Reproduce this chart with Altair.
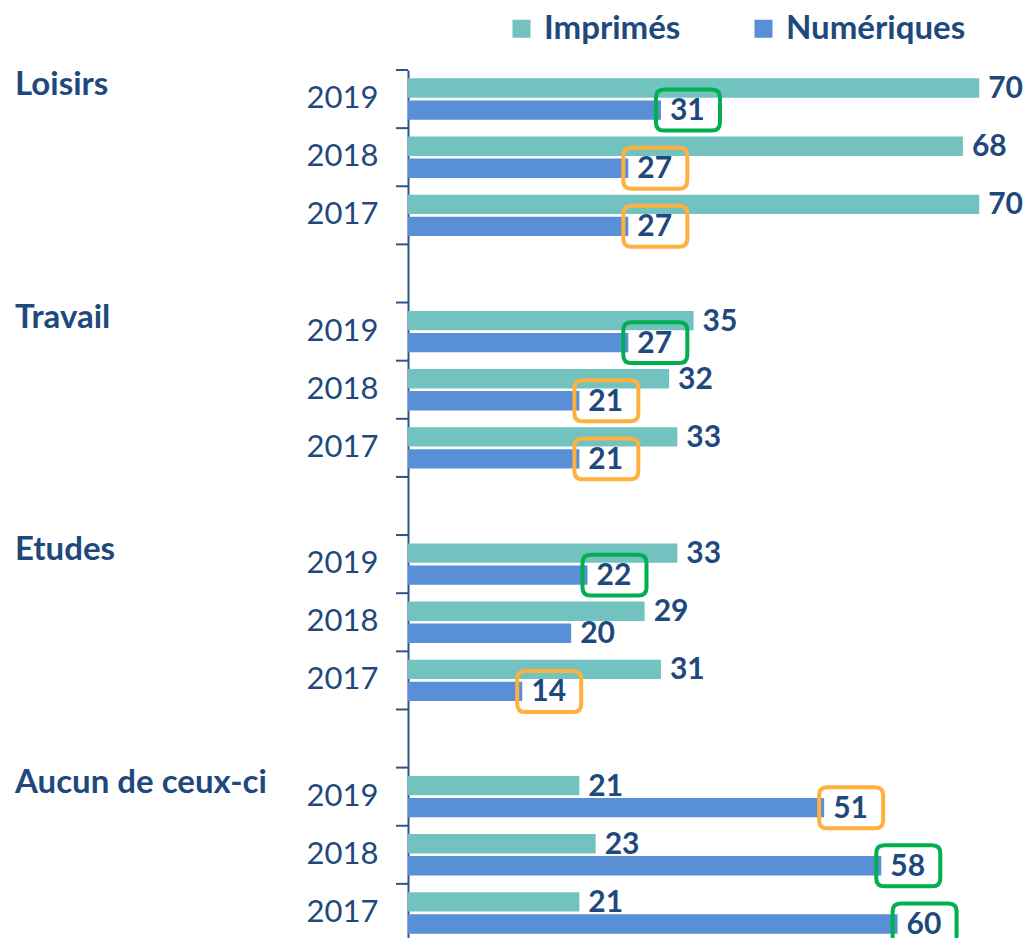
import altair as alt
import pandas as pd

groups = ["Loisirs", "Travail", "Etudes", "Aucun de ceux-ci"]
years = ["2019", "2018", "2017"]
series = ["Imprimés", "Numériques"]
imprimes = [70, 68, 70, 35, 32, 33, 33, 29, 31, 21, 23, 21]
numeriques = [31, 27, 27, 27, 21, 21, 22, 20, 14, 51, 58, 60]
highlight = ["vert", "orange", "orange",
             "vert", "orange", "orange",
             "vert", "", "orange",
             "orange", "vert", "vert"]

TEAL = "#72C3C0"
BLUE = "#588FD6"
NAVY = "#1F497D"
AXIS = "#2E538A"
GREEN = "#00B050"
ORANGE = "#FFB03F"

# row order with gap rows between groups
row_order = []
for gi, g in enumerate(groups):
    for y in years:
        row_order.append(f"{g}|{y}")
    if gi < len(groups) - 1:
        row_order.append(f"gap{gi}")

recs = []
i = 0
for g in groups:
    for y in years:
        recs.append({"row": f"{g}|{y}", "series": series[0], "value": imprimes[i], "hl": ""})
        recs.append({"row": f"{g}|{y}", "series": series[1], "value": numeriques[i], "hl": highlight[i]})
        i += 1
df = pd.DataFrame(recs)
rows_df = pd.DataFrame({"row": row_order})
groups_df = pd.DataFrame({"row": [f"{g}|2019" for g in groups], "label": groups})

yscale = alt.Scale(domain=row_order, paddingInner=0, paddingOuter=0)
yaxis = alt.Axis(
    title=None, ticks=False, domain=True, domainColor=AXIS, domainWidth=2,
    labelFont="Lato", labelFontSize=31, labelColor=NAVY, labelPadding=30,
    labelExpr="indexof(datum.value, '|') > 0 ? split(datum.value, '|')[1] : ''",
    grid=False,
)
yenc = alt.Y("row:N", scale=yscale, axis=yaxis, sort=None)
xscale = alt.Scale(domain=[0, 75], nice=False, zero=True)
xenc = alt.X("value:Q", scale=xscale, axis=None)
yoff = alt.YOffset("series:N", scale=alt.Scale(domain=series, paddingInner=0.12, paddingOuter=0.38), sort=series)

base = alt.Chart(df)

bars = base.mark_bar().encode(
    x=xenc,
    y=yenc,
    yOffset=yoff,
    color=alt.Color(
        "series:N",
        scale=alt.Scale(domain=series, range=[TEAL, BLUE]),
        legend=alt.Legend(
            title=None, orient="none", direction="horizontal",
            legendX=97, legendY=-58,
            symbolType="square", symbolSize=324, symbolStrokeWidth=0,
            labelFont="Lato", labelFontSize=33, labelFontWeight="bold",
            labelColor=NAVY, labelOffset=6, columnPadding=66, padding=0,
            labelLimit=400,
        ),
    ),
)

labels = base.mark_text(
    align="left", baseline="middle", dx=9, dy=1,
    font="Lato", fontSize=30, fontWeight="bold", color=NAVY,
).encode(x=xenc, y=yenc, yOffset=yoff, text=alt.Text("value:Q"))

box_path = ("M -0.75,-0.64 L 0.75,-0.64 Q 1,-0.64 1,-0.39 L 1,0.39 Q 1,0.64 0.75,0.64 "
            "L -0.75,0.64 Q -1,0.64 -1,0.39 L -1,-0.39 Q -1,-0.64 -0.75,-0.64 Z")
boxes = base.transform_filter("datum.hl != ''").mark_point(
    shape=box_path, size=4096, filled=False, strokeWidth=4, opacity=1, xOffset=27,
).encode(
    x=xenc, y=yenc, yOffset=yoff,
    stroke=alt.Stroke("hl:N", scale=alt.Scale(domain=["vert", "orange"], range=[GREEN, ORANGE]), legend=None),
)

ticks = alt.Chart(rows_df).mark_rule(color=AXIS, strokeWidth=2).encode(
    y=alt.Y("row:N", scale=yscale, axis=yaxis, sort=None, bandPosition=0),
    x=alt.value(-12), x2=alt.value(0),
)

group_labels = alt.Chart(groups_df).mark_text(
    align="left", baseline="middle", dy=-14,
    font="Lato", fontSize=33, fontWeight="bold", color=NAVY,
).encode(y=yenc, x=alt.value(-393), text="label:N")

chart = alt.layer(bars, labels, boxes, ticks, group_labels).properties(
    width=612, height=872,
    autosize=alt.AutoSizeParams(type="none"),
    padding={"left": 400, "top": 62, "right": 3, "bottom": 0},
).configure_view(stroke=None)

chart.save("out.html", embed_options={"renderer": "svg", "actions": False})
